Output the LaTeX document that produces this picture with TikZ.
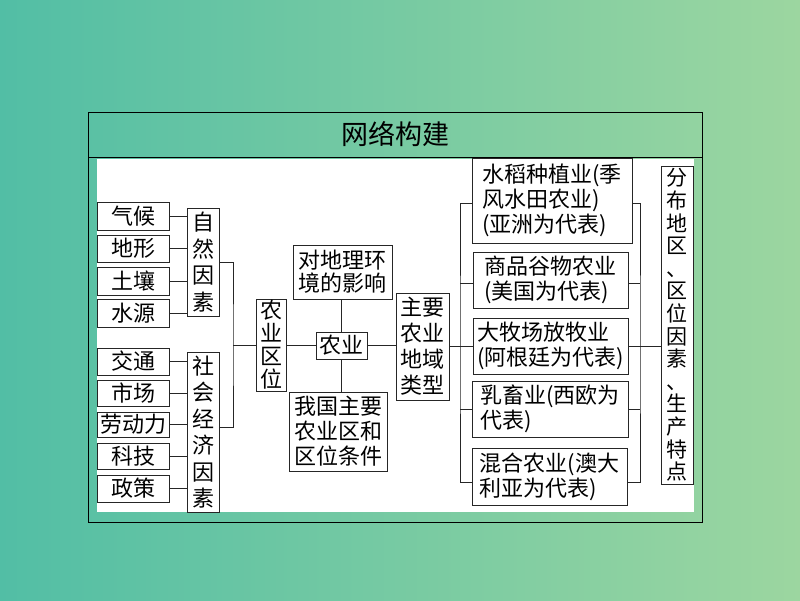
\documentclass[tikz,border=0pt]{standalone}
\usepackage{fontspec}
\newfontfamily\cjk{Noto Sans CJK SC}
\usepackage{tikz}
\usepackage{xcolor}
\definecolor{bgleft}{RGB}{82,190,165}
\definecolor{bgright}{RGB}{156,214,160}

\begin{document}
\begin{tikzpicture}[x=1pt,y=-1pt]%
  \tikzstyle{boxn}=[rectangle,draw=black!85,line width=0.9pt,fill=white,inner sep=0pt,align=center,font=\cjk\fontsize{22}{25}\selectfont]
  \tikzstyle{vboxn}=[boxn,font=\cjk\fontsize{22}{26.5}\selectfont]
  \tikzstyle{link}=[draw=black!85,line width=0.9pt]
  % background and frame
  \useasboundingbox (0,0) rectangle (800,600);
  \shade[left color=bgleft,right color=bgright] (0,0) rectangle (800,600);
  \fill[white] (97,159) rectangle (694,512);
  \draw[line width=1pt] (88,112) rectangle (702,522);
  \draw[line width=1pt] (88,157) -- (702,157);
  \node(t) at (395,134) {\cjk\fontsize{27}{30}\selectfont 网络构建};
  % factors
  \node(qh)[boxn,minimum width=72,minimum height=28] at (133,216) {气候};
  \node(dx)[boxn,minimum width=72,minimum height=27] at (133,248.5) {地形};
  \node(tr)[boxn,minimum width=72,minimum height=28] at (133,281) {土壤};
  \node(sy)[boxn,minimum width=72,minimum height=28] at (133,313) {水源};
  \node(jt)[boxn,minimum width=72,minimum height=27] at (133,361.5) {交通};
  \node(sc)[boxn,minimum width=72,minimum height=26] at (133,393) {市场};
  \node(ld)[boxn,minimum width=72,minimum height=25] at (133,424.5) {劳动力};
  \node(kj)[boxn,minimum width=72,minimum height=26] at (133,456) {科技};
  \node(zc)[boxn,minimum width=72,minimum height=27] at (133,488.5) {政策};
  \node(zr)[vboxn,minimum width=32,minimum height=108] at (203,262) {自\\然\\因\\素};
  \node(sh)[vboxn,minimum width=32,minimum height=160] at (203,432) {社\\会\\经\\济\\因\\素};
  % centre
  \node(qw)[boxn,font=\cjk\fontsize{22}{23}\selectfont,minimum width=30,minimum height=92] at (271,345) {农\\业\\区\\位};
  \node(ny)[boxn,minimum width=51,minimum height=27] at (341.5,345.5) {农业};
  \node(yx)[boxn,font=\cjk\fontsize{22}{23}\selectfont,minimum width=99,minimum height=54] at (342.5,272) {对地理环\\境的影响};
  \node(wg)[boxn,minimum width=98,minimum height=79] at (338,431.5) {我国主要\\农业区和\\区位条件};
  \node(lx)[boxn,font=\cjk\fontsize{22}{26}\selectfont,minimum width=53,minimum height=107] at (422.5,346.5) {主要\\农业\\地域\\类型};
  % types
  \node(sd)[boxn,align=left,minimum width=160,minimum height=85] at (552,200.5) {水稻种植业(季\\风水田农业)\\(亚洲为代表)};
  \node(sp)[boxn,align=left,minimum width=155,minimum height=56] at (550.5,280) {商品谷物农业\\(美国为代表)};
  \node(mc)[boxn,align=left,minimum width=155,minimum height=56] at (550.5,346) {大牧场放牧业\\(阿根廷为代表)};
  \node(rx)[boxn,align=left,minimum width=156,minimum height=56] at (550,409) {乳畜业(西欧为\\代表)};
  \node(hh)[boxn,align=left,minimum width=155,minimum height=57] at (549.5,476.5) {混合农业(澳大\\利亚为代表)};
  \node(fb)[boxn,font=\cjk\fontsize{21}{22.6}\selectfont,minimum width=32,minimum height=318] at (677,325) {分\\布\\地\\区\\、\\区\\位\\因\\素\\、\\生\\产\\特\\点};
  % links
  \coordinate(lb) at (233,345);
  \coordinate(rb1) at (460,346.5);
  \coordinate(rb2) at (640,346);
  \foreach \n in {qh,dx,tr,sy} \draw[link] (\n.east) -- (\n.east -| zr.west);
  \foreach \n in {jt,sc,ld,kj,zc} \draw[link] (\n.east) -- (\n.east -| sh.west);
  \draw[link] (zr.east) -| (lb) |- ([yshift=5pt]sh.east);
  \draw[link] (lb) -- (qw.west);
  \draw[link] (qw.east) -- (qw.east -| ny.west);
  \draw[link] (ny.east) -- (ny.east -| lx.west);
  \draw[link] (ny.north) -- (ny.north |- yx.south);
  \draw[link] (ny.south) -- (ny.south |- wg.north);
  \draw[link] (lx.east) -- (rb1);
  \draw[link] ([yshift=-2.5pt]sd.west) -| (rb1) |- ([yshift=-6pt]hh.west);
  \draw[link] ([yshift=-3pt]sp.west) -- ([yshift=-3pt]sp.west -| rb1);
  \draw[link] (mc.west) -- (mc.west -| rb1);
  \draw[link] (rx.west) -- (rx.west -| rb1);
  \draw[link] ([yshift=-2.5pt]sd.east) -| (rb2) |- ([yshift=-6pt]hh.east);
  \draw[link] ([yshift=-3pt]sp.east) -- ([yshift=-3pt]sp.east -| rb2);
  \draw[link] (mc.east) -- (mc.east -| rb2);
  \draw[link] (rx.east) -- (rx.east -| rb2);
  \draw[link] (rb2) -- (rb2 -| fb.west);
\end{tikzpicture}
\end{document}
